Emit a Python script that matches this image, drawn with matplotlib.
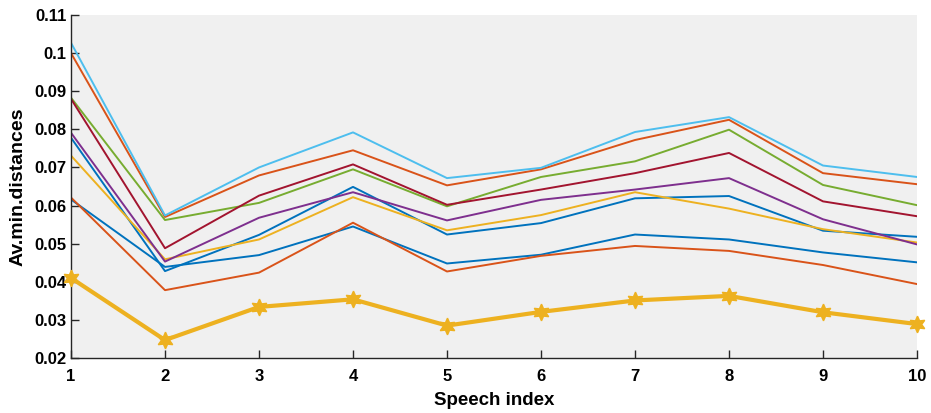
import numpy as np
import matplotlib.pyplot as plt

plt.rcParams['font.family'] = ['Liberation Sans', 'DejaVu Sans']
plt.rcParams['font.weight'] = 'bold'

speech = np.arange(1, 11)

# thin curves, MATLAB default colour order
blue_a   = [0.0778, 0.0428, 0.0523, 0.0649, 0.0524, 0.0554, 0.0619, 0.0625, 0.0534, 0.0518]
orange_a = [0.1000, 0.0570, 0.0679, 0.0745, 0.0653, 0.0695, 0.0772, 0.0825, 0.0685, 0.0656]
yellow_a = [0.0731, 0.0459, 0.0511, 0.0622, 0.0535, 0.0575, 0.0635, 0.0592, 0.0538, 0.0503]
purple_a = [0.0791, 0.0453, 0.0568, 0.0635, 0.0561, 0.0615, 0.0642, 0.0672, 0.0564, 0.0498]
green_a  = [0.0883, 0.0562, 0.0607, 0.0695, 0.0598, 0.0675, 0.0716, 0.0799, 0.0654, 0.0601]
cyan_a   = [0.1027, 0.0574, 0.0700, 0.0792, 0.0672, 0.0699, 0.0793, 0.0832, 0.0705, 0.0675]
red_a    = [0.0880, 0.0488, 0.0626, 0.0708, 0.0602, 0.0642, 0.0685, 0.0738, 0.0611, 0.0572]
blue_b   = [0.0616, 0.0439, 0.0470, 0.0545, 0.0448, 0.0471, 0.0524, 0.0511, 0.0477, 0.0451]
orange_b = [0.0621, 0.0378, 0.0424, 0.0555, 0.0427, 0.0468, 0.0494, 0.0481, 0.0444, 0.0394]

# thick curve with star markers
best = [0.0410, 0.0247, 0.0334, 0.0354, 0.0285, 0.0321, 0.0351, 0.0363, 0.0320, 0.0289]

series = [blue_a, orange_a, yellow_a, purple_a, green_a, cyan_a, red_a, blue_b, orange_b]
colors = ['#0072BD', '#D95319', '#EDB120', '#7E2F8E', '#77AC30', '#4DBEEE', '#A2142F',
          '#0072BD', '#D95319']

fig = plt.figure(figsize=(9.31, 4.13), dpi=100)
ax = fig.add_axes([71/931, 1 - 358/413, (917-71)/931, (358-15)/413])
ax.set_facecolor('#F0F0F0')

for s, c in zip(series, colors):
    ax.plot(speech, s, color=c, lw=1.4)
ax.plot(speech, best, color='#EDB120', lw=3, marker=(6, 1, 0), ms=12,
        clip_on=False, zorder=5)

ax.set_xlim(1, 10)
ax.set_ylim(0.02, 0.11)
ax.set_xticks(speech)
yt = np.round(np.arange(0.02, 0.111, 0.01), 2)
ax.set_yticks(yt)
ax.set_yticklabels(['%g' % v for v in yt])

for side in ['top', 'right']:
    ax.spines[side].set_visible(False)
for side in ['left', 'bottom']:
    ax.spines[side].set_color('#262626')
    ax.spines[side].set_linewidth(1.0)
ax.tick_params(direction='in', length=6, width=1, color='#262626', labelsize=12)
ax.tick_params(axis='x', pad=8)
ax.tick_params(axis='y', pad=3)

ax.set_xlabel('Speech index', fontsize=13.5, fontweight='bold', labelpad=6)
ax.set_ylabel('Av.min.distances', fontsize=14, fontweight='bold', labelpad=6)

fig.savefig('out.png', dpi=100)
